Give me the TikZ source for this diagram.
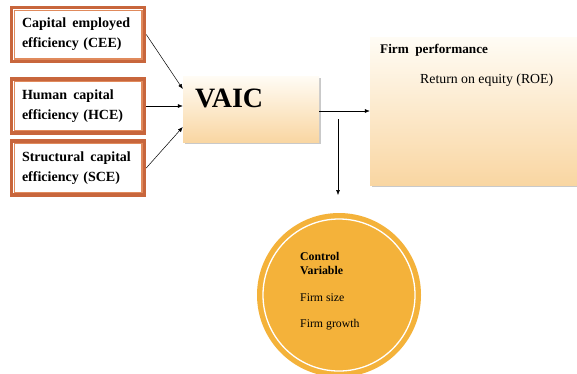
\documentclass[tikz,border=0pt]{standalone}
\usepackage{fontspec}
\setmainfont{Liberation Serif}
\usetikzlibrary{shadows,arrows.meta}
\definecolor{frameor}{HTML}{C8663C}
\definecolor{inneror}{HTML}{E08A5C}
\definecolor{gradtop}{HTML}{FFFCF5}
\definecolor{gradbot}{HTML}{F9D6A2}
\definecolor{circor}{HTML}{F4B23A}
\tikzset{
  leftbox/.style={draw=frameor, line width=3.5pt, fill=white, minimum width=133pt, minimum height=54pt,
    text width=112pt, align=left, inner sep=0pt, font=\fontsize{14}{20}\selectfont\bfseries},
  innerframe/.style={draw=inneror, line width=1.1pt},
  gradbox/.style={top color=gradtop, bottom color=gradbot, draw=none,
    drop shadow={shadow xshift=2pt, shadow yshift=-2pt, opacity=0.35, fill=black!60}},
  arr/.style={-{Latex[length=5pt,width=4pt]}, line width=0.5pt},
}
\begin{document}
\begin{tikzpicture}[x=1pt,y=-1pt]
\useasboundingbox (0,0) rectangle (577,373);
\clip (0,0) rectangle (577,373);
\fill[white] (0,0) rectangle (577,373);
% left boxes
\node[leftbox] (b1) at (78,34.5) {Capital\hspace{1.5pt} employed\\efficiency (CEE)};
\node[leftbox] (b2) at (78,106) {Human\hspace{1.5pt} capital\\efficiency (HCE)};
\node[leftbox] (b3) at (78,168) {Structural\hspace{1.5pt} capital\\efficiency (SCE)};
\foreach \b in {b1,b2,b3}{
  \draw[innerframe] ([shift={(4.3pt,-4.3pt)}]\b.north west) rectangle ([shift={(-4.3pt,4.3pt)}]\b.south east);
}
% VAIC
\node[gradbox, minimum width=136pt, minimum height=66pt, inner sep=0pt] (vaic) at (251,109) {};
\node[anchor=west, font=\fontsize{28}{30}\selectfont\bfseries, inner sep=0pt] (vaictxt) at (195,98) {VAIC};
% Firm performance
\node[gradbox, minimum width=215pt, minimum height=148pt, inner sep=0pt] (fp) at (477.5,111) {};
\node[anchor=west, font=\fontsize{13.2}{15}\selectfont\bfseries, inner sep=0pt] (fptitle) at (380,50) {Firm~ performance};
\node[anchor=west, font=\fontsize{13.8}{15}\selectfont, inner sep=0pt] (roe) at (420,80) {Return on equity (ROE)};
% control variable circle
\node[circle, fill=circor, minimum size=164pt, inner sep=0pt] (cv) at (339,295) {};
\draw[white, line width=1.3pt] (cv.center) circle (76pt);
\node[anchor=north west, align=left, font=\fontsize{11.8}{14}\selectfont\bfseries, inner sep=0pt] (cvt) at (300,252) {Control\\Variable};
\node[anchor=west, font=\fontsize{11.8}{14}\selectfont, inner sep=0pt] (fs) at (300,298) {Firm size};
\node[anchor=west, font=\fontsize{11.8}{14}\selectfont, inner sep=0pt] (fg) at (300,325) {Firm growth};
% connectors
\draw[arr] (b1.east) -- ([yshift=20pt]vaic.west);
\draw[arr] (b2.east) -- (vaic.west |- b2.east);
\draw[arr] (b3.east) -- ([yshift=-18pt]vaic.west);
\draw[arr] (vaic.east |- fp.west) -- (fp.west);
\coordinate (vtop) at (338,119);
\coordinate (vbot) at (338,195);
\draw[arr] (vtop) -- (vbot);
\end{tikzpicture}
\end{document}
